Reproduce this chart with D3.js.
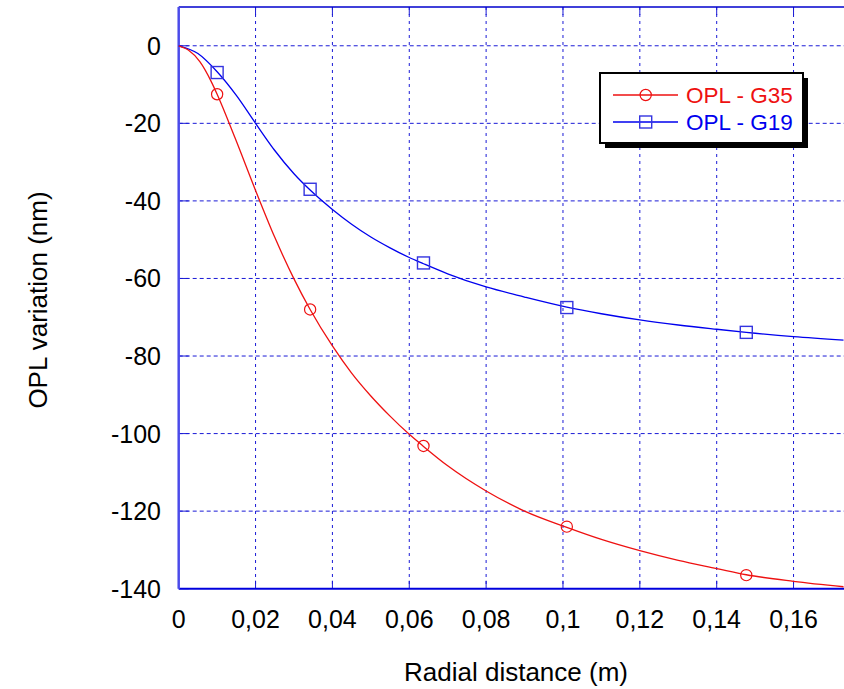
<!DOCTYPE html>
<html>
<head>
<meta charset="utf-8">
<script src="https://cdn.jsdelivr.net/npm/d3@7"></script>
<style>
  body { margin: 0; background: #fff; }
  text { font-family: "Liberation Sans", Arial, sans-serif; }
</style>
</head>
<body>
<div id="chart"></div>
<script>
// curve samples
const g35X = [0, 0.0025, 0.0055, 0.0085, 0.01, 0.0146, 0.02, 0.025, 0.03, 0.0342, 0.04, 0.045, 0.05, 0.055, 0.06, 0.0637, 0.07, 0.08, 0.09, 0.101, 0.11, 0.12, 0.13, 0.14, 0.1477, 0.16, 0.173];
const g35Y = [0, -1.1, -4.1, -9.3, -12.5, -23.6, -37.3, -49.4, -60.1, -68, -77.4, -84.4, -90.3, -95.5, -100.2, -103.3, -108.3, -114.8, -120.0, -124.2, -127.3, -130.2, -132.7, -134.8, -136.4, -138.1, -139.5];

const g19X = [0, 0.005, 0.01, 0.015, 0.02, 0.025, 0.03, 0.0342, 0.04, 0.045, 0.05, 0.055, 0.06, 0.0637, 0.07, 0.08, 0.09, 0.101, 0.11, 0.12, 0.13, 0.14, 0.1477, 0.16, 0.173];
const g19Y = [0, -2, -6.7, -12.8, -20, -27, -33, -37.2, -42.2, -46, -49.3, -52.1, -54.6, -56.2, -58.8, -62.2, -64.8, -67.4, -69.1, -70.7, -72.0, -73.1, -73.9, -75.0, -75.9];

// marker positions
const markX = [0.01, 0.0342, 0.0637, 0.101, 0.1477];
const g35Mark = [-12.5, -68, -103.2, -124, -136.5];
const g19Mark = [-6.9, -37, -56, -67.5, -73.9];

const xTicks = [0, 0.02, 0.04, 0.06, 0.08, 0.1, 0.12, 0.14, 0.16];
const yTicks = [0, -20, -40, -60, -80, -100, -120, -140];
const seriesNames = ["OPL - G35", "OPL - G19"];

const width = 844;
const height = 689;
const marginLeft = 178.7;
const marginRight = 0.5;
const marginTop = 7;
const marginBottom = 100.3;

const x = d3.scaleLinear()
    .domain([0, 0.173])
    .range([marginLeft, width - marginRight]);

const y = d3.scaleLinear()
    .domain([-140, 10])
    .range([height - marginBottom, marginTop]);

const fmt = d => d === 0 ? "0" : String(d).replace(".", ",");

const svg = d3.create("svg")
    .attr("width", width)
    .attr("height", height)
    .attr("viewBox", [0, 0, width, height]);

const gridColor = "#1a1ad6";

// grid lines
svg.append("g")
  .selectAll("line")
  .data(xTicks.filter(d => d > 0))
  .join("line")
    .attr("x1", d => x(d)).attr("x2", d => x(d))
    .attr("y1", y(10)).attr("y2", y(-140))
    .attr("stroke", gridColor)
    .attr("stroke-width", 1)
    .attr("stroke-dasharray", "3,4");

svg.append("g")
  .selectAll("line")
  .data(yTicks.filter(d => d > -140))
  .join("line")
    .attr("x1", x(0)).attr("x2", width)
    .attr("y1", d => y(d)).attr("y2", d => y(d))
    .attr("stroke", gridColor)
    .attr("stroke-width", 1)
    .attr("stroke-dasharray", "4,3");

// tick marks (solid, inside)
svg.append("g")
  .selectAll("line")
  .data(xTicks.filter(d => d > 0))
  .join("line")
    .attr("x1", d => x(d)).attr("x2", d => x(d))
    .attr("y1", y(-140)).attr("y2", y(-140) - 8)
    .attr("stroke", gridColor);
svg.append("g")
  .selectAll("line")
  .data(xTicks.filter(d => d > 0))
  .join("line")
    .attr("x1", d => x(d)).attr("x2", d => x(d))
    .attr("y1", y(10)).attr("y2", y(10) + 8)
    .attr("stroke", gridColor);
svg.append("g")
  .selectAll("line")
  .data(yTicks)
  .join("line")
    .attr("x1", x(0)).attr("x2", x(0) + 10)
    .attr("y1", d => y(d)).attr("y2", d => y(d))
    .attr("stroke", gridColor);

// frame lines
svg.append("line")
    .attr("x1", x(0)).attr("x2", width)
    .attr("y1", y(10)).attr("y2", y(10))
    .attr("stroke", "#0000cc").attr("stroke-width", 1.5);
svg.append("line")
    .attr("x1", x(0)).attr("x2", width)
    .attr("y1", y(-140)).attr("y2", y(-140))
    .attr("stroke", "#0000dd").attr("stroke-width", 2);
svg.append("line")
    .attr("x1", x(0)).attr("x2", x(0))
    .attr("y1", y(10)).attr("y2", y(-140))
    .attr("stroke", "#4b4bea").attr("stroke-width", 2.5);

// tick labels
svg.append("g")
  .selectAll("text")
  .data(xTicks)
  .join("text")
    .attr("x", d => x(d))
    .attr("y", 628)
    .attr("text-anchor", "middle")
    .attr("font-size", 25)
    .text(fmt);

svg.append("g")
  .selectAll("text")
  .data(yTicks)
  .join("text")
    .attr("x", 161)
    .attr("y", d => y(d) + 9)
    .attr("text-anchor", "end")
    .attr("font-size", 25)
    .text(fmt);

// axis titles
svg.append("text")
    .attr("x", 516)
    .attr("y", 681)
    .attr("text-anchor", "middle")
    .attr("font-size", 26)
    .text("Radial distance (m)");

svg.append("text")
    .attr("transform", `translate(47,${300}) rotate(-90)`)
    .attr("text-anchor", "middle")
    .attr("font-size", 26)
    .text("OPL variation (nm)");

// curves
const line = d3.line()
    .x(d => x(d[0]))
    .y(d => y(d[1]))
    .curve(d3.curveMonotoneX);

svg.append("path")
    .datum(d3.zip(g19X, g19Y))
    .attr("fill", "none")
    .attr("stroke", "#0000ee")
    .attr("stroke-width", 1.3)
    .attr("d", line);

svg.append("path")
    .datum(d3.zip(g35X, g35Y))
    .attr("fill", "none")
    .attr("stroke", "#ee1111")
    .attr("stroke-width", 1.3)
    .attr("d", line);

// markers
svg.append("g")
  .selectAll("circle")
  .data(d3.zip(markX, g35Mark))
  .join("circle")
    .attr("cx", d => x(d[0]))
    .attr("cy", d => y(d[1]))
    .attr("r", 5.6)
    .attr("fill", "none")
    .attr("stroke", "#ee1111")
    .attr("stroke-width", 1.2);

svg.append("g")
  .selectAll("rect")
  .data(d3.zip(markX, g19Mark))
  .join("rect")
    .attr("x", d => x(d[0]) - 6)
    .attr("y", d => y(d[1]) - 6)
    .attr("width", 12)
    .attr("height", 12)
    .attr("fill", "none")
    .attr("stroke", "#3434e0")
    .attr("stroke-width", 1.4);

// legend
const legend = svg.append("g");
legend.append("rect")
    .attr("x", 605).attr("y", 78)
    .attr("width", 203).attr("height", 70)
    .attr("fill", "#000");
legend.append("rect")
    .attr("x", 600).attr("y", 73)
    .attr("width", 203).attr("height", 70)
    .attr("fill", "#fff")
    .attr("stroke", "#000")
    .attr("stroke-width", 2);

const legColors = ["#ee1111", "#0000ee"];
const legY = [95, 122];
seriesNames.forEach((name, i) => {
  legend.append("line")
      .attr("x1", 613).attr("x2", 678)
      .attr("y1", legY[i]).attr("y2", legY[i])
      .attr("stroke", legColors[i])
      .attr("stroke-width", 1.3);
  if (i === 0) {
    legend.append("circle")
        .attr("cx", 645.7).attr("cy", legY[i]).attr("r", 5.6)
        .attr("fill", "#fff").attr("fill-opacity", 0)
        .attr("stroke", legColors[i]).attr("stroke-width", 1.2);
  } else {
    legend.append("rect")
        .attr("x", 639.7).attr("y", legY[i] - 6)
        .attr("width", 12).attr("height", 12)
        .attr("fill", "none")
        .attr("stroke", "#3434e0").attr("stroke-width", 1.4);
  }
  legend.append("text")
      .attr("x", 686)
      .attr("y", legY[i] + 8)
      .attr("font-size", 22.5)
      .attr("fill", legColors[i])
      .text(name);
});

document.getElementById("chart").appendChild(svg.node());
</script>
</body>
</html>
